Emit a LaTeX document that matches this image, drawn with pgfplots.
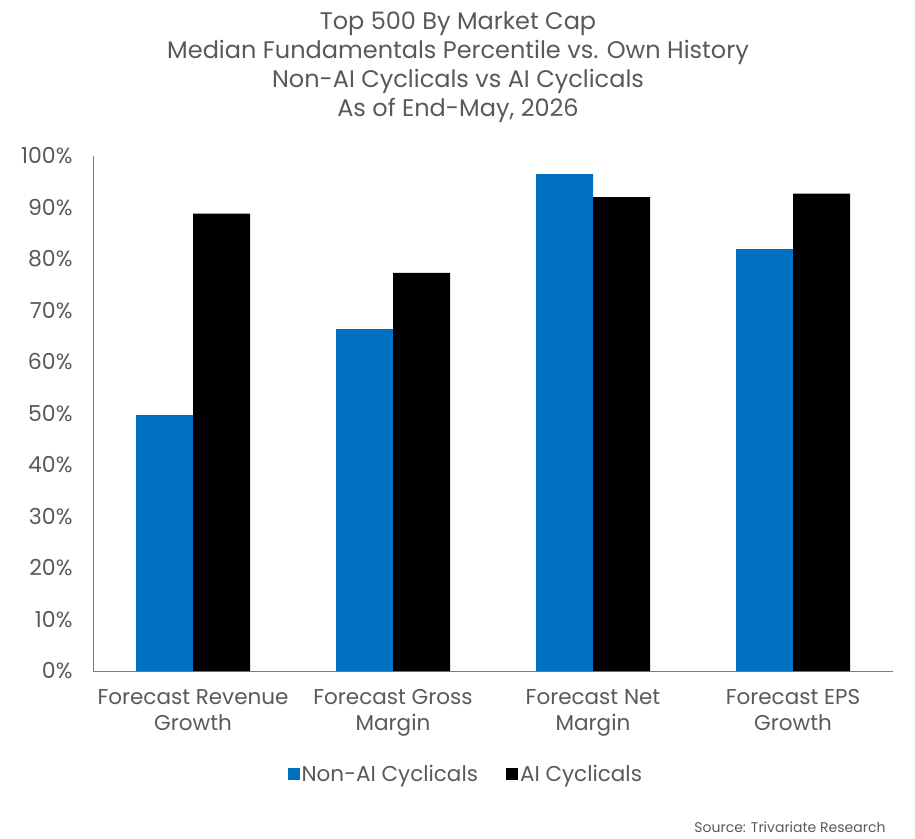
\documentclass[border=0pt]{standalone}
\usepackage{pgfplots}
\pgfplotsset{compat=1.18}
\usepackage{fontspec}
\setmainfont{Poppins}
\definecolor{txt}{HTML}{595959}
\definecolor{blu}{HTML}{0070C0}
\definecolor{axc}{HTML}{6F7D91}
\begin{document}
\begin{tikzpicture}[x=1pt,y=1pt]
\path (0,0) rectangle (915,838);
\begin{axis}[
  at={(93pt,167pt)}, anchor=south west,
  width=800pt, height=515pt, scale only axis,
  xmin=-0.5, xmax=3.5, ymin=0, ymax=100,
  ybar, bar width=57pt, ybar=0pt,
  axis x line=bottom, axis y line=left,
  axis line style={axc, line width=0.8pt, -},
  xtick={0,1,2,3},
  xticklabels={Forecast Revenue\\Growth, Forecast Gross\\Margin, Forecast Net\\Margin, Forecast EPS\\Growth},
  xticklabel style={align=center, font=\fontsize{21.5}{26}\selectfont, text=txt, yshift=-15pt},
  ytick={0,10,...,100},
  yticklabel={\pgfmathprintnumber{\tick}\%},
  yticklabel style={font=\fontsize{22}{24}\selectfont, text=txt, xshift=-17pt},
  /pgf/number format/assume math mode=true,
  major tick length=0pt,
  legend style={at={(0.466,-0.2)}, anchor=center, draw=none, fill=none,
    legend columns=2, font=\fontsize{21.5}{24}\selectfont, text=txt,
    /tikz/every even column/.append style={column sep=26pt}},
  legend cell align=left,
  legend image code/.code={\fill[#1] (0pt,-6pt) rectangle (12pt,6pt);},
  clip=false,
]
\addplot[fill=blu, draw=none] coordinates {(0,49.7) (1,66.4) (2,96.5) (3,81.9)};
\addplot[fill=black, draw=none] coordinates {(0,88.8) (1,77.3) (2,92.0) (3,92.7)};
\legend{Non-AI Cyclicals, AI Cyclicals}
\end{axis}
\node[text=txt, align=center, font=\fontsize{24}{29}\selectfont, anchor=north] at (458,830) {Top 500 By Market Cap\\Median Fundamentals Percentile vs. Own History\\Non-AI Cyclicals vs AI Cyclicals\\As of End-May, 2026};
\node[text=txt, anchor=east, font=\fontsize{14}{16}\selectfont] at (889,11) {Source: Trivariate Research};
\end{tikzpicture}
\end{document}
